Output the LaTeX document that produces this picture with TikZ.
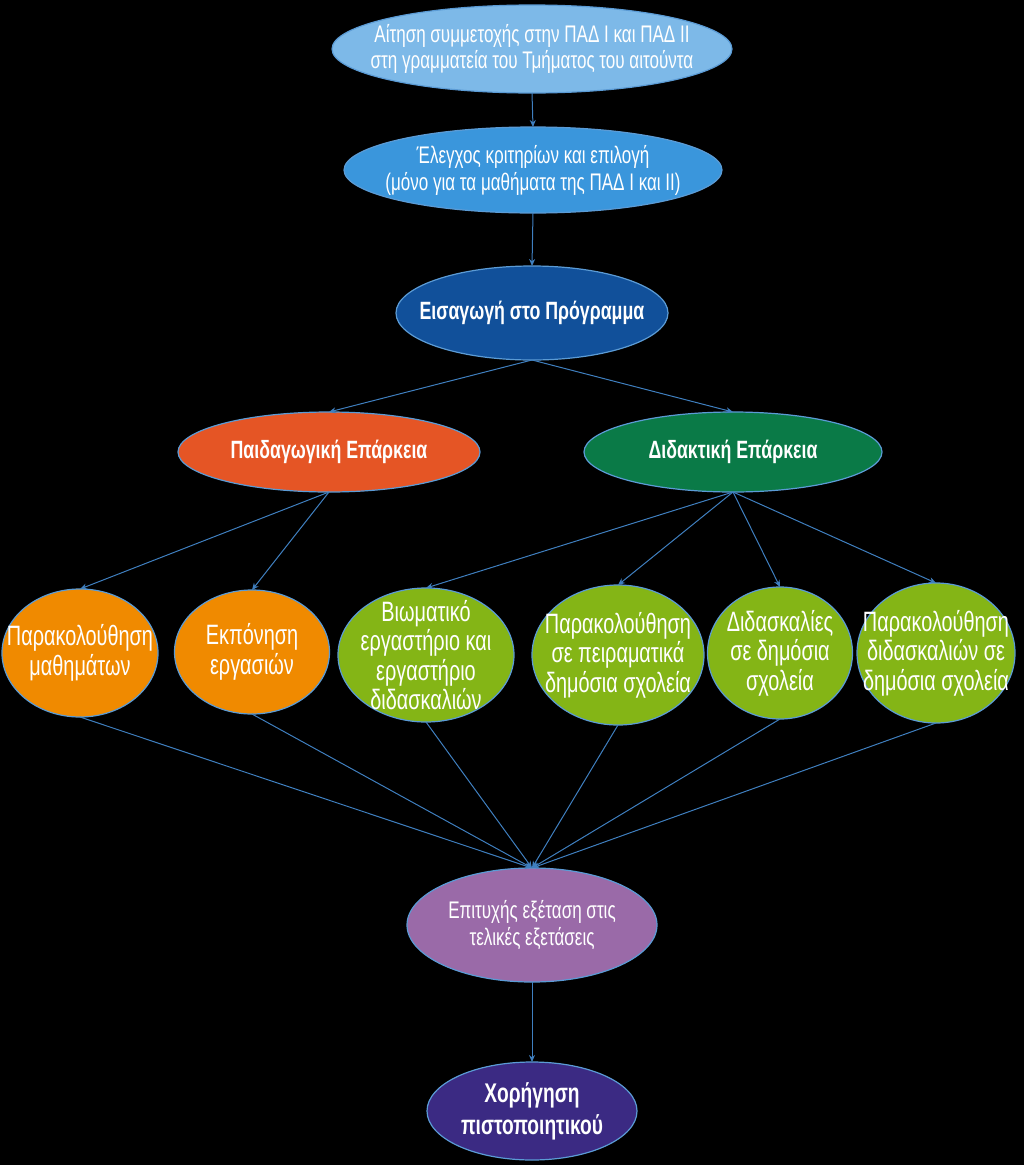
\documentclass[tikz,border=0pt]{standalone}
\usepackage{fontspec}
\setmainfont{Liberation Sans}[FakeStretch=0.71]
\usetikzlibrary{shapes.geometric,arrows.meta}
\definecolor{c1}{HTML}{7DB9E8}
\definecolor{c2}{HTML}{3A96DC}
\definecolor{c3}{HTML}{11509A}
\definecolor{cped}{HTML}{E55525}
\definecolor{cdid}{HTML}{0A7A47}
\definecolor{corange}{HTML}{F08A00}
\definecolor{cgreen}{HTML}{84B516}
\definecolor{cpurp}{HTML}{9A6AA8}
\definecolor{cdark}{HTML}{3B2A83}
\definecolor{edgec}{HTML}{3F7FBF}
\definecolor{outl}{HTML}{5B9BD5}
\tikzset{
  oval/.style={ellipse, draw=outl, line width=1.2pt, inner sep=0pt, outer sep=0pt},
  lbl/.style={text=white, align=center, inner sep=0pt},
  toptxt/.style={lbl, font=\fontsize{24}{26}\selectfont},
  rowtxt/.style={lbl, font=\fontsize{28}{29.5}\selectfont},
  midtxt/.style={lbl, font=\fontsize{24}{27}\selectfont},
  btxt/.style={lbl, font=\fontsize{25}{28}\selectfont\bfseries},
  certtxt/.style={lbl, font=\fontsize{27}{32}\selectfont\bfseries},
  conn/.style={draw=edgec, line width=1pt, -{Stealth[length=7pt,width=6pt]}}
}
\begin{document}
\begin{tikzpicture}[x=1pt,y=-1pt]
\path[use as bounding box, fill=black] (0,0) rectangle (1024,1165);
\node[oval,fill=c1,minimum width=400pt,minimum height=88pt] (n1) at (532,49) {};
\node[toptxt] (t1) at (n1) {Αίτηση συμμετοχής στην ΠΑΔ Ι και ΠΑΔ ΙΙ\\στη γραμματεία του Τμήματος του αιτούντα};
\node[oval,fill=c2,minimum width=378pt,minimum height=86pt] (n2) at (533,170) {};
\node[midtxt] (t2) at (n2) {Έλεγχος κριτηρίων και επιλογή\\(μόνο για τα μαθήματα της ΠΑΔ Ι και ΙΙ)};
\node[oval,fill=c3,minimum width=272pt,minimum height=94pt] (n3) at (532,313) {};
\node[btxt] (t3) at (n3) {Εισαγωγή στο Πρόγραμμα};
\node[oval,fill=cped,minimum width=302pt,minimum height=80pt] (ped) at (329,452) {};
\node[btxt] (tped) at (ped) {Παιδαγωγική Επάρκεια};
\node[oval,fill=cdid,minimum width=298pt,minimum height=80pt] (did) at (733,452) {};
\node[btxt] (tdid) at (did) {Διδακτική Επάρκεια};
\node[oval,fill=corange,minimum width=156pt,minimum height=128pt] (ra) at (80,653) {};
\node[rowtxt] (tra) at (ra) {Παρακολούθηση\\μαθημάτων};
\node[oval,fill=corange,minimum width=155pt,minimum height=124pt] (rb) at (252,652) {};
\node[rowtxt] (trb) at (rb) {Εκπόνηση\\εργασιών};
\node[oval,fill=cgreen,minimum width=176pt,minimum height=134pt] (rc) at (426,655) {};
\node[rowtxt] (trc) at (rc) {Βιωματικό\\εργαστήριο και\\εργαστήριο\\διδασκαλιών};
\node[oval,fill=cgreen,minimum width=172pt,minimum height=140pt] (rd) at (618,655) {};
\node[rowtxt] (trd) at (rd) {Παρακολούθηση\\σε πειραματικά\\δημόσια σχολεία};
\node[oval,fill=cgreen,minimum width=145pt,minimum height=132pt] (re) at (780,653) {};
\node[rowtxt] (tre) at (re) {Διδασκαλίες\\σε δημόσια\\σχολεία};
\node[oval,fill=cgreen,minimum width=158pt,minimum height=140pt] (rf) at (936,653) {};
\node[rowtxt] (trf) at (rf) {Παρακολούθηση\\διδασκαλιών σε\\δημόσια σχολεία};
\node[oval,fill=cpurp,minimum width=250pt,minimum height=114pt] (pass) at (532,925) {};
\node[midtxt] (tpass) at (pass) {Επιτυχής εξέταση στις\\τελικές εξετάσεις};
\node[oval,fill=cdark,minimum width=210pt,minimum height=98pt] (cert) at (532,1111) {};
\node[certtxt] (tcert) at (cert) {Χορήγηση\\πιστοποιητικού};
\draw[conn] (n1.south) -- (n2.north);
\draw[conn] (n2.south) -- (n3.north);
\draw[conn] (n3.south) -- (ped.north);
\draw[conn] (n3.south) -- (did.north);
\draw[conn] (ped.south) -- (ra.north);
\draw[conn] (ped.south) -- (rb.north);
\draw[conn] (did.south) -- (rc.north);
\draw[conn] (did.south) -- (rd.north);
\draw[conn] (did.south) -- (re.north);
\draw[conn] (did.south) -- (rf.north);
\foreach \r in {ra,rb,rc,rd,re,rf} \draw[conn] (\r.south) -- (pass.north);
\draw[conn] (pass.south) -- (cert.north);
\end{tikzpicture}
\end{document}
